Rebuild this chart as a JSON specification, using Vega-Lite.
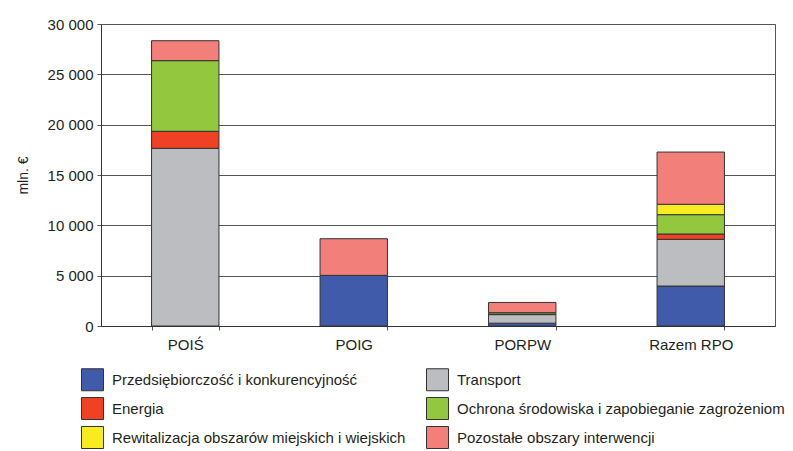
{
  "$schema": "https://vega.github.io/schema/vega-lite/v6.json",
  "autosize": {"type": "none"},
  "padding": {"left": 101, "top": 24, "right": 18, "bottom": 125},
  "width": 674,
  "height": 302,
  "background": "white",
  "config": {
    "font": "Liberation Sans",
    "view": {"stroke": "#555", "strokeWidth": 1},
    "axis": {"labelFont": "Liberation Sans", "titleFont": "Liberation Sans", "labelColor": "#231F20", "titleColor": "#231F20"}
  },
  "data": {
    "values": [
      {"program": "POIŚ", "obszar": "Transport", "mln": 17650},
      {"program": "POIŚ", "obszar": "Energia", "mln": 1690},
      {"program": "POIŚ", "obszar": "Ochrona środowiska i zapobieganie zagrożeniom", "mln": 7020},
      {"program": "POIŚ", "obszar": "Pozostałe obszary interwencji", "mln": 1980},
      {"program": "POIG", "obszar": "Przedsiębiorczość i konkurencyjność", "mln": 5030},
      {"program": "POIG", "obszar": "Pozostałe obszary interwencji", "mln": 3640},
      {"program": "PORPW", "obszar": "Przedsiębiorczość i konkurencyjność", "mln": 280},
      {"program": "PORPW", "obszar": "Transport", "mln": 850},
      {"program": "PORPW", "obszar": "Energia", "mln": 40},
      {"program": "PORPW", "obszar": "Ochrona środowiska i zapobieganie zagrożeniom", "mln": 150},
      {"program": "PORPW", "obszar": "Pozostałe obszary interwencji", "mln": 1020},
      {"program": "Razem RPO", "obszar": "Przedsiębiorczość i konkurencyjność", "mln": 3970},
      {"program": "Razem RPO", "obszar": "Transport", "mln": 4640},
      {"program": "Razem RPO", "obszar": "Energia", "mln": 530},
      {"program": "Razem RPO", "obszar": "Ochrona środowiska i zapobieganie zagrożeniom", "mln": 1920},
      {"program": "Razem RPO", "obszar": "Rewitalizacja obszarów miejskich i wiejskich", "mln": 1030},
      {"program": "Razem RPO", "obszar": "Pozostałe obszary interwencji", "mln": 5190}
    ]
  },
  "transform": [
    {"calculate": "indexof(['Przedsiębiorczość i konkurencyjność', 'Transport', 'Energia', 'Ochrona środowiska i zapobieganie zagrożeniom', 'Rewitalizacja obszarów miejskich i wiejskich', 'Pozostałe obszary interwencji'], datum.obszar)", "as": "kolejnosc"}
  ],
  "mark": {"type": "bar", "stroke": "#333", "strokeWidth": 1},
  "encoding": {
    "x": {
      "field": "program",
      "type": "nominal",
      "sort": ["POIŚ", "POIG", "PORPW", "Razem RPO"],
      "scale": {"paddingInner": 0.6, "paddingOuter": 0.3},
      "axis": {
        "title": null,
        "labelAngle": 0,
        "labelFontSize": 15,
        "labelPadding": 7,
        "tickBand": "extent",
        "tickSize": 4,
        "tickColor": "#555",
        "domainColor": "#333",
        "grid": false
      }
    },
    "y": {
      "field": "mln",
      "type": "quantitative",
      "stack": "zero",
      "scale": {"domain": [0, 30000], "nice": false},
      "axis": {
        "title": "mln. €",
        "values": [0, 5000, 10000, 15000, 20000, 25000, 30000],
        "labelExpr": "replace(format(datum.value, ','), regexp(',', 'g'), ' ')",
        "labelFontSize": 15,
        "labelPadding": 4,
        "tickSize": 4,
        "tickColor": "#555",
        "domainColor": "#333",
        "gridColor": "#555",
        "gridOpacity": 1,
        "titleFontSize": 14,
        "titleFontWeight": "normal",
        "titleAngle": 270,
        "titleAlign": "center",
        "titleBaseline": "middle",
        "titleX": -78,
        "titleY": 151
      }
    },
    "order": {"field": "kolejnosc", "type": "quantitative", "sort": "ascending"},
    "color": {
      "field": "obszar",
      "type": "nominal",
      "scale": {
        "domain": [
          "Przedsiębiorczość i konkurencyjność",
          "Transport",
          "Energia",
          "Ochrona środowiska i zapobieganie zagrożeniom",
          "Rewitalizacja obszarów miejskich i wiejskich",
          "Pozostałe obszary interwencji"
        ],
        "range": ["#3F5BA9", "#BCBDC1", "#EF4123", "#93C83E", "#F8EC21", "#F37F7B"]
      },
      "legend": {
        "title": null,
        "orient": "none",
        "direction": "horizontal",
        "legendX": -20,
        "legendY": 344,
        "columns": 2,
        "columnPadding": 18,
        "rowPadding": 2,
        "padding": 0,
        "symbolType": "square",
        "symbolSize": 484,
        "symbolStrokeColor": "#333",
        "symbolStrokeWidth": 1,
        "symbolOpacity": 1,
        "labelFontSize": 15,
        "labelOffset": 8,
        "labelColor": "#231F20",
        "labelLimit": 400
      }
    }
  }
}
